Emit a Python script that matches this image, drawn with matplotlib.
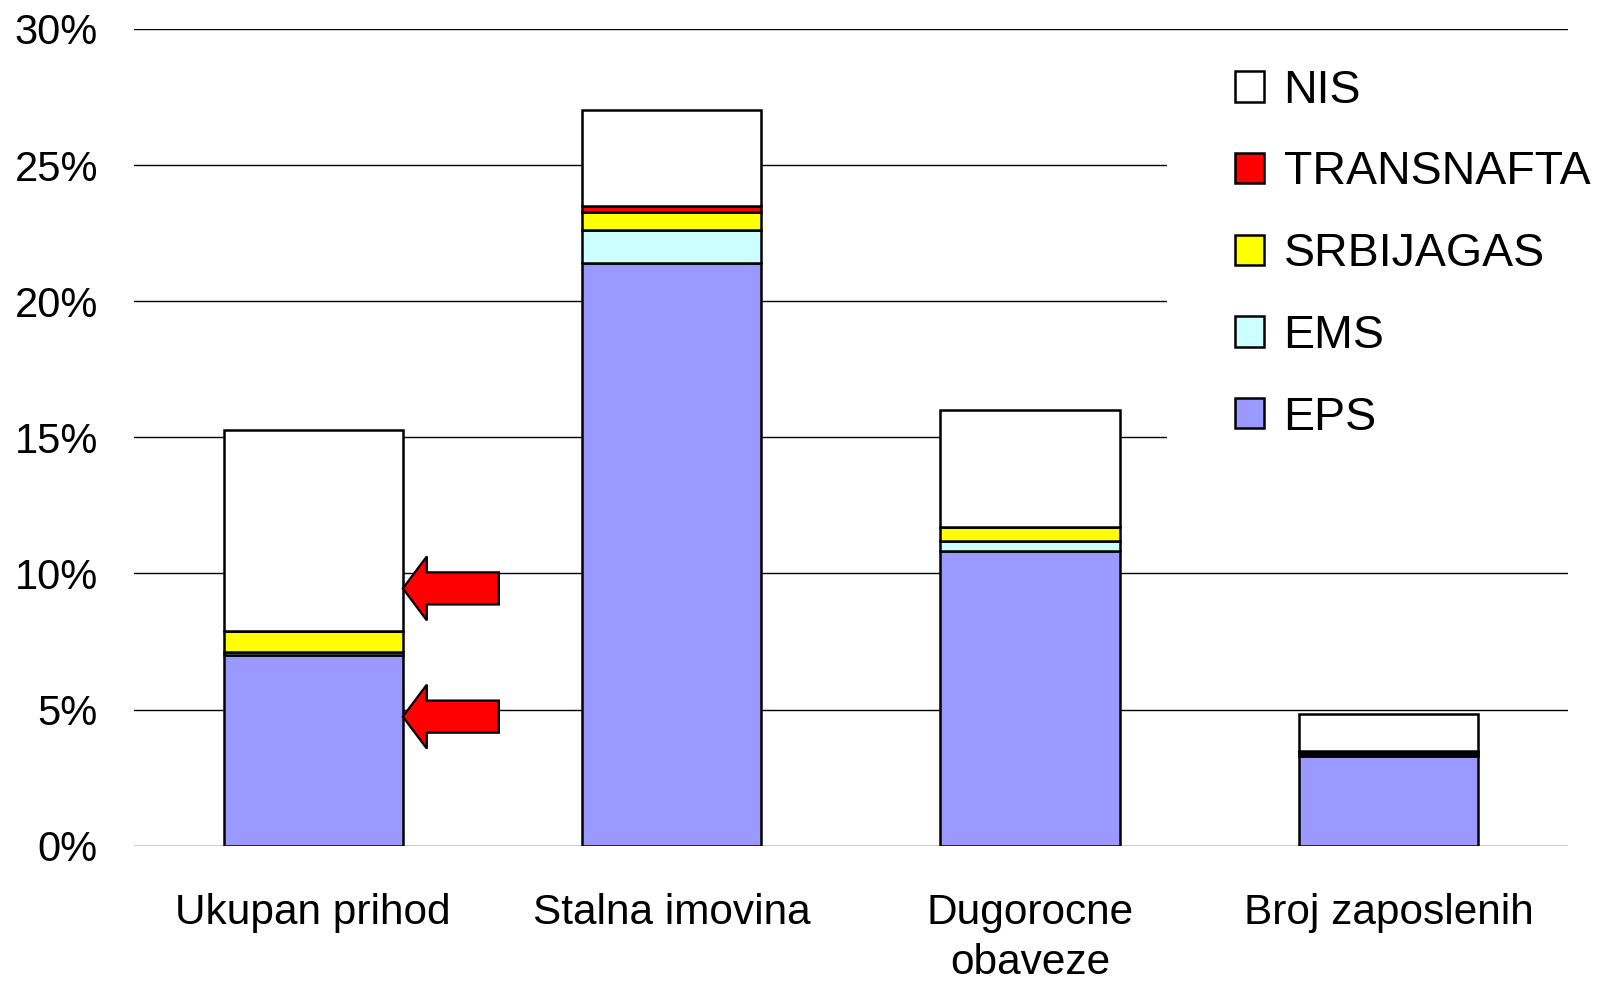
import matplotlib.pyplot as plt
from matplotlib.patches import FancyArrow, Rectangle
from matplotlib.ticker import MultipleLocator, FuncFormatter
import numpy as np

plt.rcParams['font.family'] = ['Liberation Sans', 'DejaVu Sans']

# data (percent)
categories = ['Ukupan prihod', 'Stalna imovina', 'Dugorocne\nobaveze', 'Broj zaposlenih']
eps = [7.00, 21.40, 10.83, 3.30]
ems = [0.12, 1.22, 0.36, 0.08]
srbijagas = [0.76, 0.65, 0.51, 0.06]
transnafta = [0.00, 0.21, 0.00, 0.04]
nis = [7.39, 3.55, 4.32, 1.35]

series = [('EPS', eps, '#9999FF'),
          ('EMS', ems, '#CCFFFF'),
          ('SRBIJAGAS', srbijagas, '#FFFF00'),
          ('TRANSNAFTA', transnafta, '#FF0000'),
          ('NIS', nis, '#FFFFFF')]

# arrows pointing at the first bar
arrow_y = [9.45, 4.74]

fig = plt.figure(figsize=(15.99, 9.83), dpi=100)
ax = fig.add_axes([0.0838, 0.1397, 0.8966, 0.8308])

x = np.arange(len(categories))
bar_w = 0.5
bottom = np.zeros(len(categories))
handles = []
for name, vals, col in series:
    b = ax.bar(x, vals, bar_w, bottom=bottom, color=col, edgecolor='black',
               linewidth=1.8, label=name, zorder=2)
    handles.append(b)
    bottom += np.array(vals)

ax.set_xlim(-0.5, 3.5)
ax.set_ylim(0, 30)
ax.yaxis.set_major_locator(MultipleLocator(5))
ax.yaxis.set_major_formatter(FuncFormatter(lambda v, p: '%d%%' % v))
ax.set_axisbelow(True)
ax.yaxis.grid(True, color='black', linewidth=1.0, zorder=0)
for s in ax.spines.values():
    s.set_visible(False)
ax.tick_params(axis='both', length=0)
ax.tick_params(axis='y', labelsize=30, pad=26)
ax.set_xticks(x)
ax.set_xticklabels(categories, fontsize=30.5, linespacing=1.32)
ax.tick_params(axis='x', pad=34)

# white area behind the legend hides the gridlines there
ax.add_patch(Rectangle((2.382, 11.5), 1.2, 16.5, facecolor='white',
                       edgecolor='none', zorder=1))

for yv in arrow_y:
    ax.add_patch(FancyArrow(0.518, yv, 0.25 - 0.518, 0, width=1.18,
                            head_width=2.35, head_length=0.067,
                            length_includes_head=True, facecolor='#FF0000',
                            edgecolor='black', linewidth=1.6, zorder=3,
                            clip_on=False))

leg = fig.legend(handles[::-1], [s[0] for s in series][::-1], loc='upper left',
                 bbox_to_anchor=(0.7725, 0.930), frameon=False, fontsize=33.5,
                 handlelength=0.62, handleheight=0.62, handletextpad=0.42,
                 labelspacing=0.81, borderpad=0, borderaxespad=0)
for h in leg.legend_handles:
    h.set_linewidth(1.8)

fig.savefig('out.png', dpi=100)
